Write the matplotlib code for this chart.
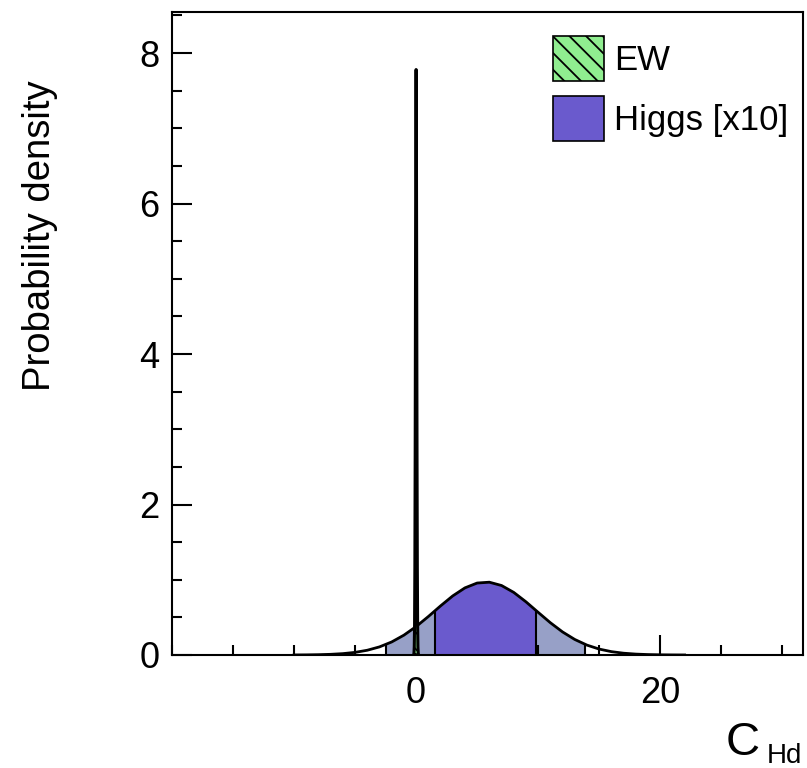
import numpy as np
import matplotlib
matplotlib.use("Agg")
import matplotlib.pyplot as plt
from matplotlib.patches import Patch, Rectangle, Polygon
from matplotlib.ticker import MultipleLocator, FixedLocator

plt.rcParams['font.family'] = ['Liberation Sans', 'DejaVu Sans']
plt.rcParams['hatch.linewidth'] = 1.3

# ---- data ----
# Higgs posterior [x10], sampled every 1 unit of C_Hd
higgs_x = [-10, -9, -8, -7, -6, -5, -4, -3, -2, -1, 0, 1, 2, 3, 4, 5, 6, 7, 8, 9,
           10, 11, 12, 13, 14, 15, 16, 17, 18, 19, 20, 21, 22]
higgs_y = [0.0008, 0.0018, 0.0042, 0.0090, 0.0182, 0.0349, 0.0632, 0.1078, 0.1734,
           0.2636, 0.3777, 0.5108, 0.6519, 0.7850, 0.8919, 0.9563, 0.9675, 0.9235,
           0.8319, 0.7070, 0.5671, 0.4291, 0.3064, 0.2065, 0.1313, 0.0788, 0.0446,
           0.0238, 0.0120, 0.0057, 0.0026, 0.0011, 0.0004]
higgs_68 = [1.52, 9.85]
higgs_95 = [-2.5, 13.87]

# EW posterior (very narrow spike around 0)
ew_x = [-0.2, -0.175, -0.15, -0.125, -0.1, -0.075, -0.05, -0.025, 0.0,
        0.025, 0.05, 0.075, 0.1, 0.125, 0.15, 0.175, 0.2]
ew_y = [0.004, 0.023, 0.108, 0.400, 1.164, 2.672, 4.838, 6.909, 7.78,
        6.909, 4.838, 2.672, 1.164, 0.400, 0.108, 0.023, 0.004]

legend_labels = ["EW", "Higgs [x10]"]
x_label = "C"
x_label_sub = "Hd"
y_label = "Probability density"

c68 = '#6a5acd'
c95 = '#97a0c7'
c_ew = '#90ee90'

W, H = 807, 768
fig = plt.figure(figsize=(W / 100, H / 100), dpi=100)
ax = fig.add_axes([172 / W, 1 - 655 / H, (803 - 172) / W, (655 - 12) / H])

hx = np.asarray(higgs_x, float)
hy = np.asarray(higgs_y, float)

# 95% band
p95 = ax.fill_between(hx, 0, hy, color=c95, lw=0, zorder=1)
p95.set_clip_path(Rectangle((higgs_95[0], 0), higgs_95[1] - higgs_95[0], 100,
                            transform=ax.transData))
# 68% band
p68 = ax.fill_between(hx, 0, hy, color=c68, lw=0, zorder=2)
p68.set_clip_path(Rectangle((higgs_68[0], 0), higgs_68[1] - higgs_68[0], 100,
                            transform=ax.transData))

# band edges, clipped by the curve
curve_patch = Polygon(np.column_stack([np.r_[hx[0], hx, hx[-1]], np.r_[0, hy, 0]]),
                      closed=True, transform=ax.transData)
vl = ax.vlines(higgs_68 + higgs_95, 0, 10, colors='k', lw=1.5, zorder=3)
vl.set_clip_path(curve_patch)

ax.plot(hx, hy, color='k', lw=2, zorder=4)

# EW spike
ax.fill_between(ew_x, 0, ew_y, facecolor=c_ew, edgecolor='k', hatch='\\\\', lw=2.2, zorder=5)

ax.set_xlim(-20, 31.7)
ax.set_ylim(0, 8.545)

ax.xaxis.set_major_locator(FixedLocator([0, 20]))
ax.xaxis.set_minor_locator(MultipleLocator(5))
ax.yaxis.set_major_locator(FixedLocator([0, 2, 4, 6, 8]))
ax.yaxis.set_minor_locator(MultipleLocator(0.5))
ax.tick_params(which='both', direction='in', top=False, right=False, width=1.5,
               labelsize=26)
ax.tick_params(which='major', length=14.5)
ax.tick_params(which='minor', length=7.2)
ax.tick_params(axis='x', which='major', pad=15)
ax.tick_params(axis='y', which='major', pad=9)
for s in ax.spines.values():
    s.set_linewidth(1.5)

# axis titles
fig.text(40 / W, 1 - 80 / H, y_label, rotation=90, ha='center', va='top', fontsize=27.5)
fig.text(726 / W, 1 - 755 / H, x_label, ha='left', va='baseline', fontsize=34)
fig.text(767 / W, 1 - 763 / H, x_label_sub, ha='left', va='baseline', fontsize=20)

handles = [Patch(facecolor=c_ew, edgecolor='k', hatch='\\\\', lw=1.2),
           Patch(facecolor=c68, edgecolor='k', lw=1.2)]
fig.legend(handles, legend_labels, loc='upper left',
           bbox_to_anchor=(553 / W, 1 - 36 / H), bbox_transform=fig.transFigure,
           frameon=False, fontsize=25, borderpad=0, borderaxespad=0,
           handlelength=1.47, handleheight=1.61, labelspacing=0.45,
           handletextpad=0.3)

fig.savefig("out.png", dpi=100)
